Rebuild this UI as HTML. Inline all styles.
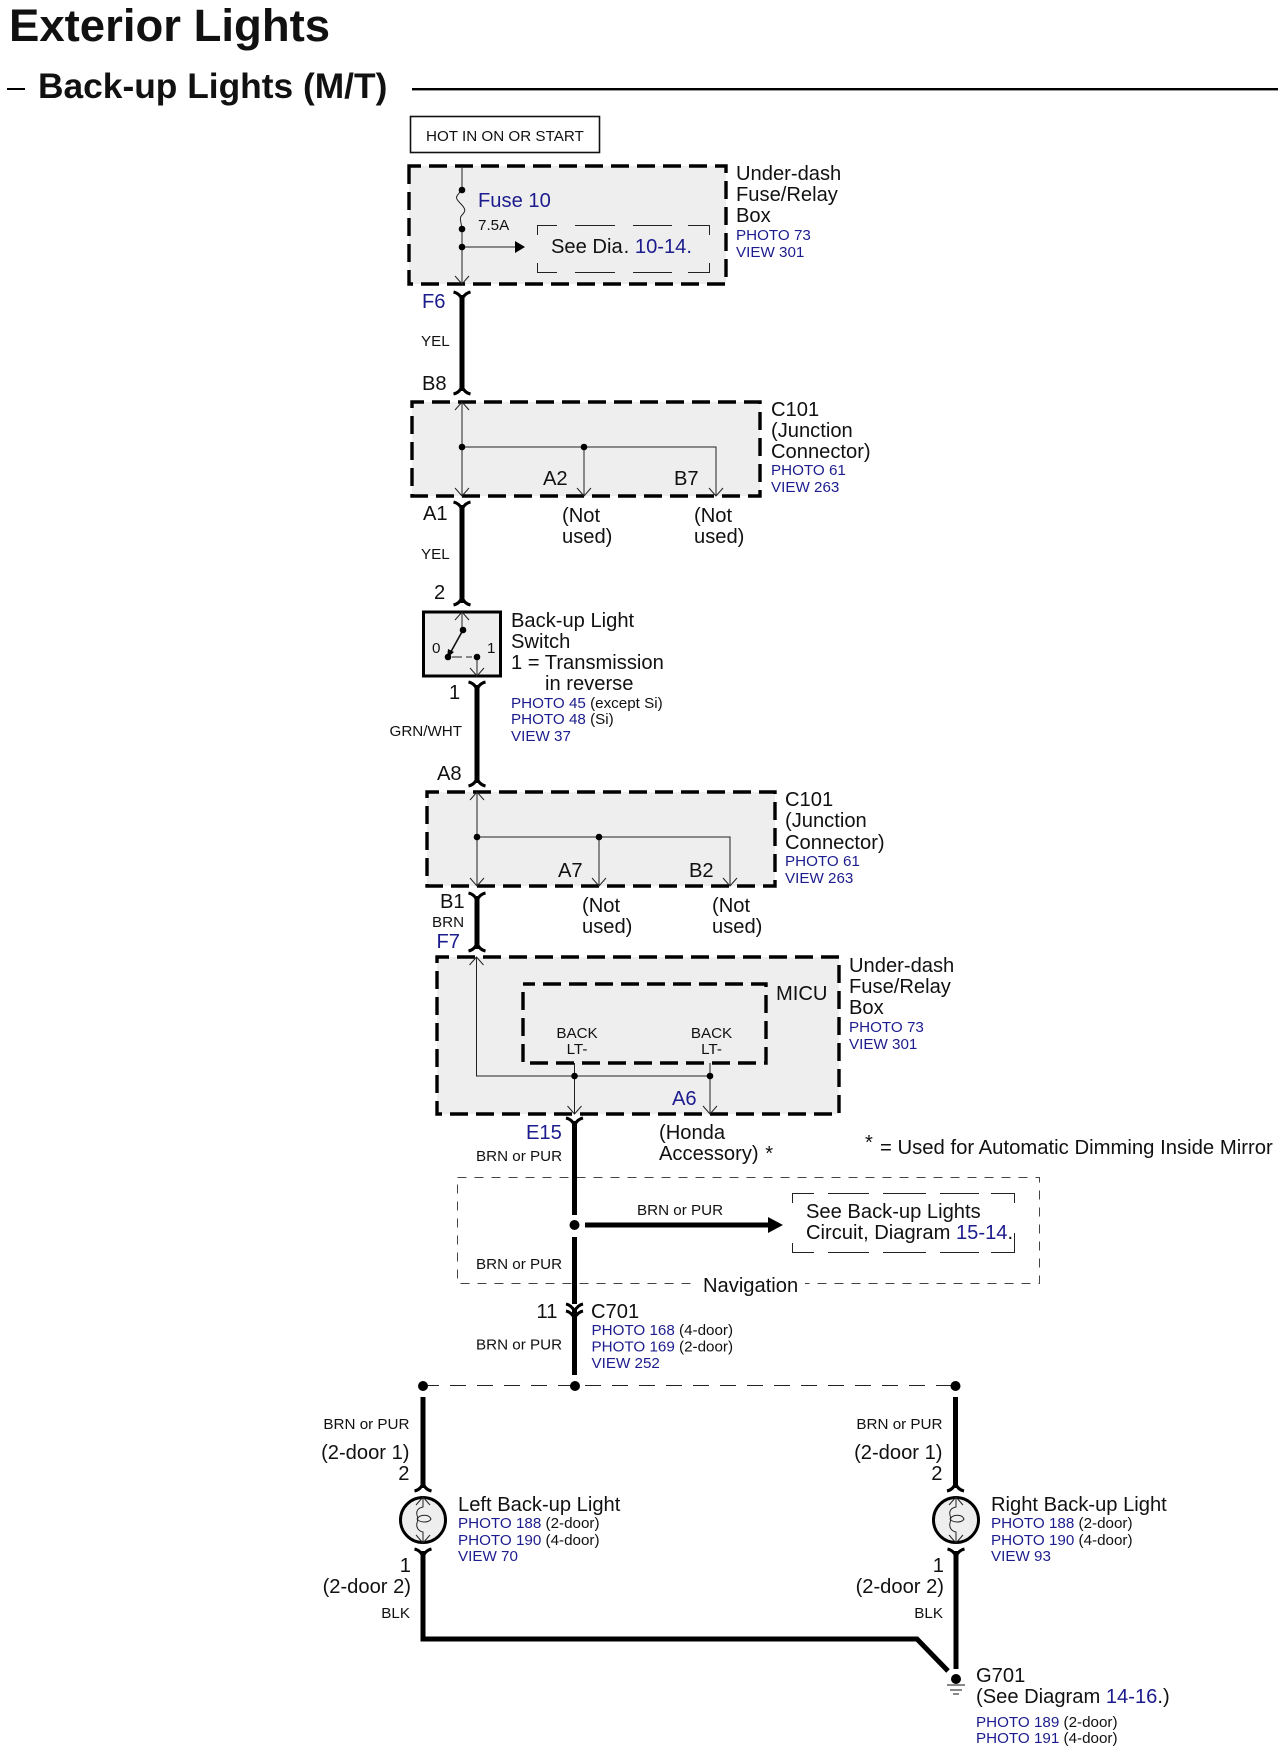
<!DOCTYPE html>
<html><head><meta charset="utf-8"><title>Exterior Lights - Back-up Lights (M/T)</title>
<style>
html,body{margin:0;padding:0;background:#fff}
svg{display:block}
text{font-family:"Liberation Sans",Arial,sans-serif;fill:#111}
.a{font-size:20.15px}
.s{font-size:15.2px}
.b{fill:#1c1c8e}
tspan.b{fill:#1c1c8e}
.r{text-anchor:end}
.m{text-anchor:middle}
.w{stroke:#000;stroke-width:5;fill:none}
.t{stroke:#222;stroke-width:1;fill:none}
.c{stroke:#000;stroke-width:3;fill:none}
.box{fill:#eee;stroke:#000;stroke-width:3.4;stroke-dasharray:18 8;stroke-dashoffset:6}
.thin{stroke:#222;stroke-width:1;fill:none}
</style></head><body>
<svg width="1286" height="1751" viewBox="0 0 1286 1751" xmlns="http://www.w3.org/2000/svg">
<defs>
<path id="cup" d="M-8.5 0Q-2 1.5 0 8Q2 1.5 8.5 0" class="c"/>
<path id="arch" d="M-8.5 0Q-2 -1.5 0 -8Q2 -1.5 8.5 0" class="c"/>
<path id="vd" d="M-7 -8L0 0L7 -8" class="t"/>
<path id="vu" d="M-7 8L0 0L7 8" class="t"/>
</defs>
<rect width="1286" height="1751" fill="#fff"/>

<!-- Title -->
<text x="9" y="41" font-size="45.5" font-weight="bold" fill="#000">Exterior Lights</text>
<rect x="7" y="88" width="18" height="2" fill="#000"/>
<text x="38" y="98" font-size="35.35" font-weight="bold" fill="#000">Back-up Lights (M/T)</text>
<rect x="412" y="88" width="866" height="2.4" fill="#000"/>

<!-- Hot box -->
<rect x="410.5" y="116.5" width="189" height="36" fill="#fff" stroke="#111" stroke-width="1.6"/>
<text x="426" y="141" class="s">HOT IN ON OR START</text>

<!-- Under-dash fuse box -->
<rect x="409" y="166" width="317" height="118" class="box"/>
<path d="M462 166V190M462 190c-7 7 -7 8 -2 13c6 6 6 8 2 12c-3 3 -1 6 0 14M462 229V284M462 247H515" class="t"/>
<use href="#vd" x="462" y="284"/>
<circle cx="462" cy="190" r="3.3" fill="#000"/><circle cx="462" cy="229" r="3.3" fill="#000"/><circle cx="462" cy="247" r="3.3" fill="#000"/>
<path d="M515 241L525 247L515 253Z" fill="#000"/>
<path d="M537.5 235V225.5H557M575 225.5H615M633 225.5H672M688 225.5H709.5V235M537.5 263V272.5H557M575 272.5H615M633 272.5H672M688 272.5H709.5V263" class="thin"/>
<text x="478" y="207" class="a b">Fuse 10</text>
<text x="478" y="230" class="s">7.5A</text>
<text x="551" y="253" class="a">See Dia<tspan dx="1">.</tspan> <tspan class="b">10-14.</tspan></text>
<text x="736" y="180" class="a">Under-dash</text>
<text x="736" y="201" class="a">Fuse/Relay</text>
<text x="736" y="222" class="a">Box</text>
<text x="736" y="240" class="s b">PHOTO 73</text>
<text x="736" y="257" class="s b">VIEW 301</text>

<!-- F6 to B8 -->
<path d="M462 295V391" class="w"/>
<use href="#cup" x="462" y="292"/><use href="#arch" x="462" y="394"/>
<text x="422" y="308" class="a b">F6</text>
<text x="421" y="346" class="s">YEL</text>
<text x="422" y="390" class="a">B8</text>

<!-- C101 top -->
<rect x="412" y="402" width="348" height="94" class="box"/>
<path d="M462 402V496M462 447H716V496M584 447V496" class="t"/>
<use href="#vu" x="462" y="402"/><use href="#vd" x="462" y="496"/><use href="#vd" x="584" y="496"/><use href="#vd" x="716" y="496"/>
<circle cx="462" cy="447" r="3.3" fill="#000"/><circle cx="584" cy="447" r="3.3" fill="#000"/>
<text x="543" y="485" class="a">A2</text>
<text x="674" y="485" class="a">B7</text>
<text x="771" y="416" class="a">C101</text>
<text x="771" y="437" class="a">(Junction</text>
<text x="771" y="458" class="a">Connector)</text>
<text x="771" y="475" class="s b">PHOTO 61</text>
<text x="771" y="492" class="s b">VIEW 263</text>
<text x="423" y="520" class="a">A1</text>
<text x="562" y="522" class="a">(Not</text><text x="562" y="543" class="a">used)</text>
<text x="694" y="522" class="a">(Not</text><text x="694" y="543" class="a">used)</text>

<!-- A1 to 2 -->
<path d="M462 505V603" class="w"/>
<use href="#cup" x="462" y="502"/><use href="#arch" x="462" y="605"/>
<text x="421" y="559" class="s">YEL</text>
<text x="434" y="599" class="a">2</text>

<!-- Switch -->
<rect x="423.5" y="612" width="77" height="64" fill="#eee" stroke="#000" stroke-width="3"/>
<path d="M462 612V630" class="t"/>
<path d="M463 630L448 657" stroke="#111" stroke-width="1.6" fill="none"/>
<path d="M452 659H462M466 659H472" class="t" transform="translate(0,-2)"/>
<path d="M477 657V676" class="t"/>
<use href="#vu" x="462" y="612"/><use href="#vd" x="477" y="676"/>
<path d="M447 658l1 -9l6 3Z" fill="#000"/>
<circle cx="463" cy="630" r="3.3" fill="#000"/><circle cx="448" cy="657" r="3.3" fill="#000"/><circle cx="477" cy="657" r="3.3" fill="#000"/>
<text x="432" y="653" class="s">0</text><text x="487" y="653" class="s">1</text>
<text x="511" y="627" class="a">Back-up Light</text>
<text x="511" y="648" class="a">Switch</text>
<text x="511" y="669" class="a">1 = Transmission</text>
<text x="545" y="690" class="a">in reverse</text>
<text x="511" y="708" class="s"><tspan class="b">PHOTO 45</tspan> (except Si)</text>
<text x="511" y="724" class="s"><tspan class="b">PHOTO 48</tspan> (Si)</text>
<text x="511" y="741" class="s b">VIEW 37</text>

<!-- 1 to A8 -->
<path d="M477 685V783" class="w"/>
<use href="#cup" x="477" y="682"/><use href="#arch" x="477" y="786"/>
<text x="449" y="699" class="a">1</text>
<text x="389.5" y="736" class="s">GRN/WHT</text>
<text x="437" y="780" class="a">A8</text>

<!-- C101 second -->
<rect x="427" y="792" width="348" height="94" class="box"/>
<path d="M477 792V886M477 837H730V886M599 837V886" class="t"/>
<use href="#vu" x="477" y="792"/><use href="#vd" x="477" y="886"/><use href="#vd" x="599" y="886"/><use href="#vd" x="730" y="886"/>
<circle cx="477" cy="837" r="3.3" fill="#000"/><circle cx="599" cy="837" r="3.3" fill="#000"/>
<text x="558" y="877" class="a">A7</text>
<text x="689" y="877" class="a">B2</text>
<text x="785" y="806" class="a">C101</text>
<text x="785" y="827" class="a">(Junction</text>
<text x="785" y="849" class="a">Connector)</text>
<text x="785" y="866" class="s b">PHOTO 61</text>
<text x="785" y="883" class="s b">VIEW 263</text>
<text x="440" y="908" class="a">B1</text>
<text x="432" y="927" class="s">BRN</text>
<text x="436.5" y="948" class="a b">F7</text>
<text x="582" y="912" class="a">(Not</text><text x="582" y="933" class="a">used)</text>
<text x="712" y="912" class="a">(Not</text><text x="712" y="933" class="a">used)</text>
<path d="M477 896V949" class="w"/>
<use href="#cup" x="477" y="893"/><use href="#arch" x="477" y="951"/>

<!-- MICU -->
<rect x="437" y="957" width="402" height="157" class="box"/>
<rect x="523" y="984" width="243" height="79" class="box"/>
<path d="M476.5 957V1076H710M574.5 1063V1114M710 1063V1114" class="t"/>
<use href="#vu" x="476.5" y="957"/><use href="#vd" x="574.5" y="1114"/><use href="#vd" x="710" y="1114"/>
<circle cx="574.5" cy="1076" r="3.3" fill="#000"/><circle cx="710" cy="1076" r="3.3" fill="#000"/>
<text x="577" y="1038" class="s m">BACK</text><text x="577" y="1054" class="s m">LT-</text>
<text x="711.5" y="1038" class="s m">BACK</text><text x="711.5" y="1054" class="s m">LT-</text>
<text x="776" y="1000" class="a">MICU</text>
<text x="672" y="1105" class="a b">A6</text>
<text x="849" y="972" class="a">Under-dash</text>
<text x="849" y="993" class="a">Fuse/Relay</text>
<text x="849" y="1014" class="a">Box</text>
<text x="849" y="1032" class="s b">PHOTO 73</text>
<text x="849" y="1049" class="s b">VIEW 301</text>

<!-- Below MICU -->
<text x="526" y="1139" class="a b">E15</text>
<text x="476" y="1161" class="s">BRN or PUR</text>
<text x="659" y="1139" class="a">(Honda</text>
<text x="659" y="1160" class="a">Accessory)<tspan dx="1"> *</tspan></text>
<text x="865" y="1149" class="a">*</text>
<text x="880" y="1154" font-size="20.3">= Used for Automatic Dimming Inside Mirror</text>

<!-- Navigation -->
<rect x="457.5" y="1177.5" width="582" height="106" fill="none" stroke="#444" stroke-width="1" stroke-dasharray="9 8"/>
<rect x="695" y="1275" width="110" height="20" fill="#fff"/>
<text x="703" y="1292" class="a">Navigation</text>
<path d="M574.5 1121V1215M574.5 1237V1375" class="w"/>
<use href="#cup" x="574.5" y="1118"/>
<circle cx="574.5" cy="1225" r="5" fill="#000"/>
<path d="M585 1225H770" class="w"/>
<path d="M768 1217L783 1225L768 1233Z" fill="#000"/>
<text x="637" y="1215" class="s">BRN or PUR</text>
<path d="M792.5 1203V1193.5H814M828 1193.5H869M883 1193.5H926M940 1193.5H979M991 1193.5H1014.5V1203M792.5 1243V1252.5H814M828 1252.5H869M883 1252.5H926M940 1252.5H979M991 1252.5H1014.5V1233" class="thin"/>
<text x="806" y="1218" class="a">See Back-up Lights</text>
<text x="806" y="1239" class="a">Circuit, Diagram <tspan class="b">15-14</tspan>.</text>
<text x="476" y="1269" class="s">BRN or PUR</text>

<!-- C701 -->
<path d="M566 1304Q571 1305 574.5 1311Q578 1305 583 1304" stroke="#000" stroke-width="3" fill="#fff"/>
<path d="M566 1311Q571 1312 574.5 1318Q578 1312 583 1311" class="c"/>
<text x="536.5" y="1318" class="a">11</text>
<text x="591" y="1318" class="a">C701</text>
<text x="591.5" y="1335" class="s"><tspan class="b">PHOTO 168</tspan> (4-door)</text>
<text x="591.5" y="1351.5" class="s"><tspan class="b">PHOTO 169</tspan> (2-door)</text>
<text x="591.5" y="1368" class="s b">VIEW 252</text>
<text x="476" y="1349.5" class="s">BRN or PUR</text>

<!-- Split -->
<path d="M423 1385.5H955" stroke="#222" stroke-width="1" stroke-dasharray="16 11" fill="none"/>
<circle cx="423" cy="1386" r="5" fill="#000"/><circle cx="575" cy="1386" r="5" fill="#000"/><circle cx="955.5" cy="1386" r="5" fill="#000"/>

<!-- Left light -->
<path d="M423 1397V1488" class="w"/>
<use href="#arch" x="423" y="1491"/>
<circle cx="423" cy="1520" r="22.5" fill="#eee" stroke="#000" stroke-width="3"/>
<path d="M423 1497V1507c-5 1-7 4-6 8c1 3 1 5 0 8c-1 4 1 8 6 9V1543M417 1519c3-5 12-5 14 0c-2 4-11 4-14 0Z" class="t"/>
<use href="#vu" x="423" y="1497"/><use href="#vd" x="423" y="1543"/>
<use href="#cup" x="423" y="1549"/>
<path d="M423 1551V1639H917L948 1671" class="w" stroke-linejoin="miter"/>
<text x="409.5" y="1429" class="s r">BRN or PUR</text>
<text x="409.5" y="1459" class="a r">(2-door 1)</text>
<text x="409.5" y="1480" class="a r">2</text>
<text x="411" y="1572" class="a r">1</text>
<text x="411" y="1593" class="a r">(2-door 2)</text>
<text x="410" y="1618" class="s r">BLK</text>
<text x="458" y="1511" class="a">Left Back-up Light</text>
<text x="458" y="1528" class="s"><tspan class="b">PHOTO 188</tspan> (2-door)</text>
<text x="458" y="1545" class="s"><tspan class="b">PHOTO 190</tspan> (4-door)</text>
<text x="458" y="1561" class="s b">VIEW 70</text>

<!-- Right light -->
<path d="M955.5 1397V1488" class="w"/>
<use href="#arch" x="955.5" y="1491"/>
<circle cx="956" cy="1520" r="22.5" fill="#eee" stroke="#000" stroke-width="3"/>
<path d="M956 1497V1507c-5 1-7 4-6 8c1 3 1 5 0 8c-1 4 1 8 6 9V1543M950 1519c3-5 12-5 14 0c-2 4-11 4-14 0Z" class="t"/>
<use href="#vu" x="956" y="1497"/><use href="#vd" x="956" y="1543"/>
<use href="#cup" x="956" y="1549"/>
<path d="M956 1551V1669" class="w"/>
<circle cx="956" cy="1679" r="5" fill="#000"/>
<path d="M947 1685H965M950 1690H962M953 1694H959" stroke="#111" stroke-width="1" fill="none"/>
<text x="942.5" y="1429" class="s r">BRN or PUR</text>
<text x="942.5" y="1459" class="a r">(2-door 1)</text>
<text x="942.5" y="1480" class="a r">2</text>
<text x="944" y="1572" class="a r">1</text>
<text x="944" y="1593" class="a r">(2-door 2)</text>
<text x="943" y="1618" class="s r">BLK</text>
<text x="991" y="1511" class="a">Right Back-up Light</text>
<text x="991" y="1528" class="s"><tspan class="b">PHOTO 188</tspan> (2-door)</text>
<text x="991" y="1545" class="s"><tspan class="b">PHOTO 190</tspan> (4-door)</text>
<text x="991" y="1561" class="s b">VIEW 93</text>

<!-- Ground -->
<text x="976" y="1682" class="a">G701</text>
<text x="976" y="1703" class="a">(See Diagram <tspan class="b">14-16</tspan>.)</text>
<text x="976" y="1727" class="s"><tspan class="b">PHOTO 189</tspan> (2-door)</text>
<text x="976" y="1743" class="s"><tspan class="b">PHOTO 191</tspan> (4-door)</text>
</svg>
</body></html>
